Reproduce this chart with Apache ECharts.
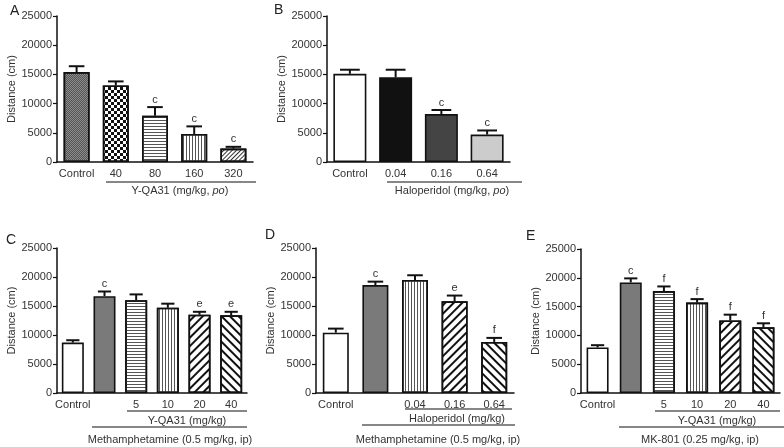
<!DOCTYPE html>
<html>
<head>
<meta charset="utf-8">
<script src="https://cdn.jsdelivr.net/npm/echarts@6/dist/echarts.min.js"></script>
<style>
  html, body { margin: 0; padding: 0; background: #fff; }
  #main { width: 784px; height: 447px; }
</style>
</head>
<body>
<div id="main"></div>
<script>
// ---- data ----
var catA = ['Control', '40', '80', '160', '320'];
var valA = [15400, 13100, 7900, 4800, 2300];
var errA = [16400, 13800, 9400, 6100, 2600];
var sigA = ['', '', 'c', 'c', 'c'];

var catB = ['Control', '0.04', '0.16', '0.64'];
var valB = [15100, 14500, 8200, 4700];
var errB = [15800, 15800, 8900, 5400];
var sigB = ['', '', 'c', 'c'];

var catC = ['Control', '', '5', '10', '20', '40'];
var valC = [8700, 16700, 16000, 14700, 13500, 13400];
var errC = [9100, 17500, 17000, 15400, 14000, 14000];
var sigC = ['', 'c', '', '', 'e', 'e'];

var catD = ['Control', '', '0.04', '0.16', '0.64'];
var valD = [10400, 18600, 19500, 15800, 8800];
var errD = [11100, 19200, 20300, 16800, 9500];
var sigD = ['', 'c', '', 'e', 'f'];

var catE = ['Control', '', '5', '10', '20', '40'];
var valE = [7900, 19200, 17700, 15700, 12600, 11400];
var errE = [8300, 19900, 18500, 16300, 13600, 12100];
var sigE = ['', 'c', 'f', 'f', 'f', 'f'];

var yTicks = [0, 5000, 10000, 15000, 20000, 25000];

// ---- fills ----
var FONT = 'Liberation Sans, Arial, sans-serif';
var TXT = '#333';

function solid(c) { return { color: c }; }
function pat(bg, decal) { return { color: bg, decal: decal }; }

// pattern rotation turns clockwise on screen, so a negative angle gives "/"
var fill = {
  white: solid('#ffffff'),
  black: solid('#111111'),
  dark: solid('#444444'),
  light: solid('#cccccc'),
  gray: solid('#7a7a7a'),
  fineDark: pat('#8c8c8c', { symbol: 'rect', symbolSize: 1, dashArrayX: [[1, 1], [0, 1, 1, 0]], dashArrayY: [1, 0], color: '#555' }),
  checker: pat('#ffffff', { symbol: 'rect', symbolSize: 1, dashArrayX: [[3, 3], [0, 3, 3, 0]], dashArrayY: [3, 0], color: '#111' }),
  hLines: pat('#ffffff', { symbol: 'rect', symbolSize: 1, dashArrayX: [1, 0], dashArrayY: [1, 2], color: '#555' }),
  vLines: pat('#ffffff', { symbol: 'rect', symbolSize: 1, dashArrayX: [1, 2], dashArrayY: [1, 0], color: '#555' }),
  fineDiag: pat('#ffffff', { symbol: 'rect', symbolSize: 1, dashArrayX: [1, 0], dashArrayY: [1, 2], rotation: -Math.PI / 4, color: '#333' }),
  diagUp: pat('#ffffff', { symbol: 'rect', symbolSize: 1, dashArrayX: [1, 0], dashArrayY: [2, 4], rotation: -Math.PI / 4, color: '#111' }),
  diagDown: pat('#ffffff', { symbol: 'rect', symbolSize: 1, dashArrayX: [1, 0], dashArrayY: [2, 4], rotation: Math.PI / 4, color: '#111' })
};

var panels = [
  { cat: catA, val: valA, err: errA, sig: sigA, bw: 26,
    fills: [fill.fineDark, fill.checker, fill.hLines, fill.vLines, fill.fineDiag],
    grid: { left: 57, top: 16, width: 196, height: 146 } },
  { cat: catB, val: valB, err: errB, sig: sigB, bw: 33,
    fills: [fill.white, fill.black, fill.dark, fill.light],
    grid: { left: 327, top: 16, width: 183, height: 146 } },
  { cat: catC, val: valC, err: errC, sig: sigC, bw: 22,
    fills: [fill.white, fill.gray, fill.hLines, fill.vLines, fill.diagUp, fill.diagDown],
    grid: { left: 57, top: 248, width: 190, height: 145 } },
  { cat: catD, val: valD, err: errD, sig: sigD, bw: 26,
    fills: [fill.white, fill.gray, fill.vLines, fill.diagUp, fill.diagDown],
    grid: { left: 316, top: 248, width: 198, height: 145 } },
  { cat: catE, val: valE, err: errE, sig: sigE, bw: 22,
    fills: [fill.white, fill.gray, fill.hLines, fill.vLines, fill.diagUp, fill.diagDown],
    grid: { left: 581, top: 249, width: 199, height: 144 } }
];

var grids = [], xAxes = [], yAxes = [], series = [];

panels.forEach(function (p, k) {
  grids.push(p.grid);
  xAxes.push({
    type: 'category', gridIndex: k, data: p.cat,
    axisLine: { lineStyle: { color: '#111', width: 1.5 } },
    axisTick: { alignWithLabel: true, length: 4, lineStyle: { color: '#111', width: 1.2 } },
    axisLabel: { interval: 0, color: TXT, fontSize: 11, fontFamily: FONT, margin: 6 }
  });
  yAxes.push({
    type: 'value', gridIndex: k, min: yTicks[0], max: yTicks[yTicks.length - 1], interval: 5000,
    name: 'Distance (cm)', nameLocation: 'middle', nameGap: 35,
    nameTextStyle: { color: TXT, fontSize: 11, fontFamily: FONT },
    splitLine: { show: false },
    axisLine: { show: true, lineStyle: { color: '#111', width: 1.5 } },
    axisTick: { show: true, length: 4, lineStyle: { color: '#111', width: 1.2 } },
    axisLabel: { color: TXT, fontSize: 11, fontFamily: FONT, margin: 5,
      formatter: function (v) { return String(v); } }
  });
  series.push({
    type: 'bar', xAxisIndex: k, yAxisIndex: k, barWidth: p.bw,
    data: p.val.map(function (v, i) {
      var f = p.fills[i];
      return { value: v, itemStyle: { color: f.color, decal: f.decal || null, borderColor: '#111', borderWidth: 1.6 } };
    })
  });
  series.push({
    type: 'custom', xAxisIndex: k, yAxisIndex: k, z: 5,
    data: p.val.map(function (v, i) { return [i, v, p.err[i]]; }),
    renderItem: function (params, api) {
      var i = api.value(0);
      var a = api.coord([i, api.value(1)]);
      var b = api.coord([i, api.value(2)]);
      var w = p.bw * 0.6;
      return {
        type: 'group',
        children: [
          { type: 'line', shape: { x1: a[0], y1: a[1], x2: b[0], y2: b[1] }, style: { stroke: '#111', lineWidth: 2 } },
          { type: 'line', shape: { x1: b[0] - w / 2, y1: b[1], x2: b[0] + w / 2, y2: b[1] }, style: { stroke: '#111', lineWidth: 2 } },
          { type: 'text', x: b[0], y: b[1] - 2,
            style: { text: p.sig[params.dataIndex], textAlign: 'center', textVerticalAlign: 'bottom', fill: TXT, font: '11px ' + FONT } }
        ]
      };
    }
  });
});

// group annotation lines and captions
function hline(x1, x2, y) {
  return { type: 'line', shape: { x1: x1, y1: y, x2: x2, y2: y }, style: { stroke: '#111', lineWidth: 1.2 } };
}
function caption(text, x, y) {
  return { type: 'text', x: x, y: y,
    style: { text: text, textAlign: 'center', textVerticalAlign: 'middle', fill: TXT, font: '11px ' + FONT,
      rich: { i: { fontStyle: 'italic', fontSize: 11, fontFamily: FONT, fill: TXT } } } };
}
function letter(t, x, y) {
  return { type: 'text', x: x, y: y, style: { text: t, fill: '#222', font: '14px ' + FONT, textVerticalAlign: 'middle' } };
}

var graphics = [
  letter('A', 10, 11), letter('B', 274, 10), letter('C', 6, 240), letter('D', 265, 235), letter('E', 526, 236),
  hline(106, 256, 182), caption('Y-QA31 (mg/kg, {i|po})', 180, 191),
  hline(387, 522, 182), caption('Haloperidol (mg/kg, {i|po})', 452, 191),
  hline(127, 247, 411), caption('Y-QA31 (mg/kg)', 187, 421),
  hline(92, 247, 427), caption('Methamphetamine (0.5 mg/kg, ip)', 170, 440),
  hline(405, 512, 409), caption('Haloperidol (mg/kg)', 457, 419),
  hline(362, 515, 425), caption('Methamphetamine (0.5 mg/kg, ip)', 438, 440),
  hline(655, 780, 411), caption('Y-QA31 (mg/kg)', 717, 421),
  hline(619, 784, 427), caption('MK-801 (0.25 mg/kg, ip)', 700, 440)
];

var myChart = echarts.init(document.getElementById('main'));
myChart.setOption({
  animation: false,
  backgroundColor: '#fff',
  grid: grids,
  xAxis: xAxes,
  yAxis: yAxes,
  series: series,
  graphic: graphics
});
</script>
</body>
</html>
